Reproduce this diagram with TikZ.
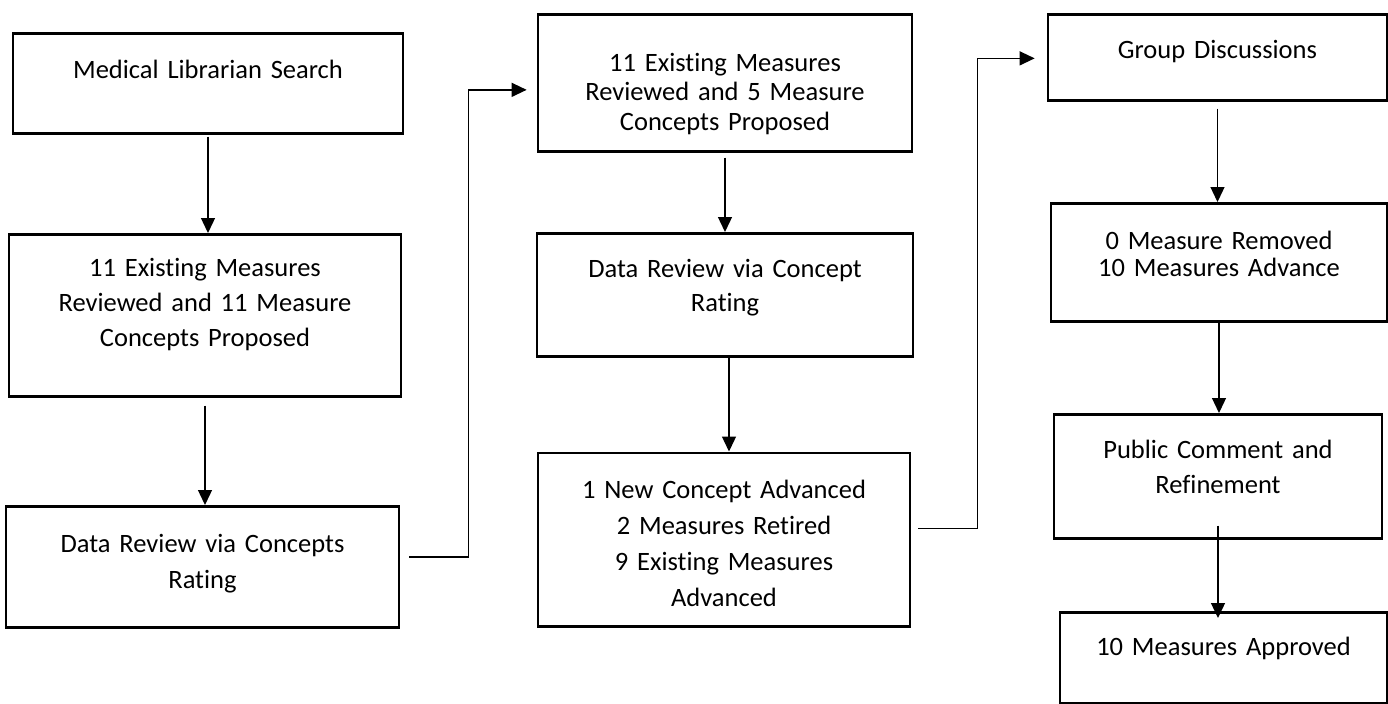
\documentclass[tikz,border=0pt]{standalone}
\usepackage{fontspec}
\setmainfont{Carlito}[Ligatures=CommonOff]
\usetikzlibrary{arrows.meta,calc}

\tikzset{
  stepbox/.style={draw, line width=1.35pt, inner sep=0pt, anchor=north, align=center,
                  font=\fontsize{13.25}{17.75}\selectfont},
  lead/.style={font=\fontsize{13.25}{#1}\selectfont},
  link/.style={line width=0.65pt},
}

\begin{document}
\begin{tikzpicture}[x=0.5pt, y=-0.5pt, >={Triangle[length=7.5pt,width=7pt]}]
        \useasboundingbox (0,0) rectangle (1388,703);

        % first column
        \node [stepbox, text width=195pt, text height=22.75pt, text depth=27.25pt] (search)   at (208,32)
              {Medical Librarian Search};
        \node [stepbox, lead=17.5pt, text width=196pt, text height=21pt, text depth=60pt] (proposed) at (205,233)
              {11 Existing Measures\\Reviewed and 11 Measure\\Concepts Proposed};
        \node [stepbox, lead=18pt, text width=196.5pt, text height=23pt, text depth=37.5pt] (rating)  at (202.5,505)
              {Data Review via Concepts\\Rating};

        % second column
        \node [stepbox, lead=14.75pt, text width=187pt, text height=28.5pt, text depth=40pt] (reviewed) at (725,13)
              {11 Existing Measures\\Reviewed and 5 Measure\\Concepts Proposed};
        \node [stepbox, lead=17pt, text width=188pt, text height=22pt, text depth=39.5pt] (datarev)   at (725,232)
              {Data Review via Concept\\Rating};
        \node [stepbox, lead=18pt, text width=186pt, text height=22.75pt, text depth=64pt] (advanced) at (724,451.5)
              {1 New Concept Advanced\\2 Measures Retired\\9 Existing Measures\\Advanced};

        % third column
        \node [stepbox, text width=169.5pt, text height=21.85pt, text depth=21.15pt] (group)   at (1217.5,13)
              {Group Discussions};
        \node [stepbox, lead=13.5pt, text width=168pt, text height=23pt, text depth=36pt] (removed) at (1219,202)
              {0 Measure Removed\\10 Measures Advance};
        \node [stepbox, lead=17.5pt, text width=164pt, text height=21.85pt, text depth=40.15pt] (public) at (1218,413)
              {Public Comment and\\Refinement};
        \node [stepbox, text width=163.5pt, text height=21.5pt, text depth=24pt] (approved) at (1223.5,611)
              {10 Measures Approved};

        \draw [link, ->] ([yshift=-1pt]search.south)   -- (search.south |- proposed.north);   %
        \draw [link, ->] ([yshift=-4pt]proposed.south) -- (proposed.south |- rating.north);   %
        \draw [link, ->] ($(rating.east)+(9,-10)$) -- ++(59,0) |- ($(reviewed.west)+(-10,7)$); % to col 2
        \draw [link, ->] ([yshift=-2.5pt]reviewed.south) -- (reviewed.south |- datarev.north); %
        \draw [link, ->] ([xshift=2pt]datarev.south)   -- ([xshift=2pt]datarev.south |- advanced.north);
        \draw [link, ->] ($(advanced.east)+(7,-11)$) -- ++(59,0) |- ($(group.west)+(-12,1)$);  % to col 3
        \draw [link, ->] ([yshift=-3.5pt]group.south)  -- (group.south |- removed.north);     %
        \draw [link, ->] (removed.south)               -- (removed.south |- public.north);    %
        \draw [link, ->] ([yshift=7pt]public.south)    -- ([yshift=-3.5pt]public.south |- approved.north);
\end{tikzpicture}
\end{document}
